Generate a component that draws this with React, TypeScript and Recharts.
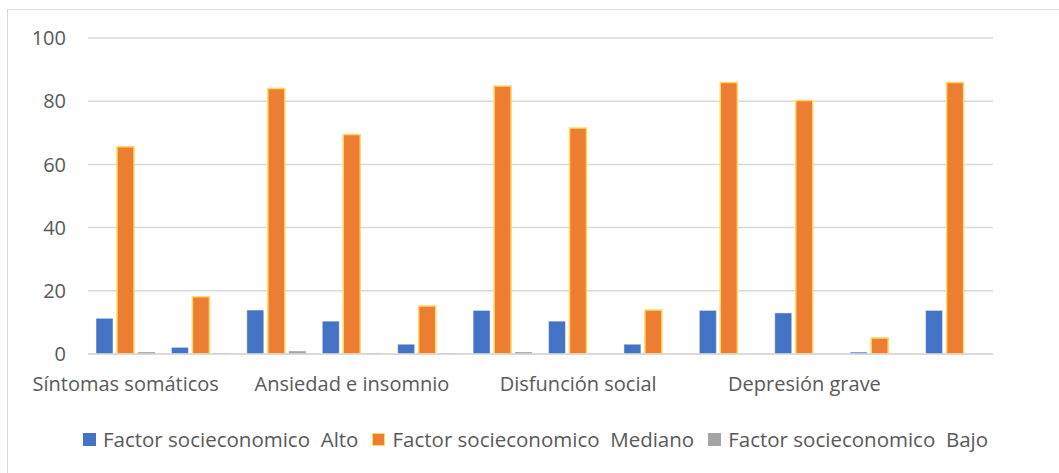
import React from 'react';
import { BarChart, Bar, XAxis, YAxis, CartesianGrid, Legend } from 'recharts';

const categories = [
  'Síntomas somáticos', '', '',
  'Ansiedad e insomnio', '', '',
  'Disfunción social', '', '',
  'Depresión grave', '', '',
];
const alto = [11.3, 2.1, 13.9, 10.4, 3.1, 13.8, 10.4, 3.1, 13.8, 13.0, 0.6, 13.8];
const mediano = [65.6, 18.1, 84.0, 69.5, 15.2, 84.8, 71.5, 13.9, 85.9, 80.2, 5.1, 85.9];
const bajo = [0.6, 0.2, 0.9, 0.2, 0.2, 0.6, 0, 0, 0, 0, 0, 0];
const yTicks = [0, 20, 40, 60, 80, 100];

const seriesNames = [
  'Factor socieconomico  Alto',
  'Factor socieconomico  Mediano',
  'Factor socieconomico  Bajo',
];

const data = categories.map((c, i) => ({
  name: c,
  alto: alto[i],
  mediano: mediano[i],
  bajo: bajo[i],
}));

const font = '"Open Sans", "Noto Sans", sans-serif';
const textColor = '#595959';

const legendItems = [
  { label: seriesNames[0], fill: '#4472C4', stroke: '#4472C4' },
  { label: seriesNames[1], fill: '#ED7D31', stroke: '#FFD966' },
  { label: seriesNames[2], fill: '#A5A5A5', stroke: '#A5A5A5' },
];

const renderLegend = () => (
  <div style={{ height: 69, display: 'flex', justifyContent: 'center', paddingTop: 41, paddingLeft: 12, boxSizing: 'border-box' }}>
    {legendItems.map((it) => (
      <div key={it.label} style={{ display: 'flex', alignItems: 'center', margin: '0 7px' }}>
        <span style={{ width: 11, height: 11, background: it.fill, border: `1.5px solid ${it.stroke}`, marginRight: 7, display: 'inline-block' }} />
        <span style={{ fontSize: 20.5, color: textColor, whiteSpace: 'pre', fontFamily: font }}>{it.label}</span>
      </div>
    ))}
  </div>
);

export default function App() {
  return (
    <div style={{ position: 'absolute', left: 0, top: 0, width: 1059, height: 473, overflow: 'hidden', background: '#fff' }}>
      <div style={{ position: 'absolute', left: 7, top: 9, width: 1070, height: 480, border: '1.5px solid #d9d9d9' }} />
      <div style={{ position: 'absolute', left: 0, top: 0 }}>
        <BarChart
          width={1059}
          height={473}
          data={data}
          margin={{ top: 38, right: 66, left: 8, bottom: 20 }}
          barCategoryGap={8}
          barGap={4}
          style={{ fontFamily: font }}
        >
          <CartesianGrid vertical={false} stroke="#d9d9d9" strokeWidth={1.5} />
          <XAxis
            dataKey="name"
            interval={0}
            tickLine={false}
            tickSize={0}
            tickMargin={23}
            height={30}
            axisLine={{ stroke: '#d9d9d9', strokeWidth: 1.5 }}
            tick={{ fill: textColor, fontSize: 20 }}
          />
          <YAxis
            domain={[0, 100]}
            ticks={yTicks}
            width={80}
            axisLine={false}
            tickLine={false}
            tickSize={0}
            tickMargin={22}
            tick={{ fill: textColor, fontSize: 20 }}
          />
          <Legend
            verticalAlign="bottom"
            height={69}
            content={renderLegend}
            wrapperStyle={{ left: 0, width: 1059 }}
          />
          <Bar dataKey="alto" name={seriesNames[0]} fill="#4472C4" stroke="#ffffff" strokeWidth={0.5} isAnimationActive={false} />
          <Bar dataKey="mediano" name={seriesNames[1]} fill="#ED7D31" stroke="#FFD966" strokeWidth={1.5} isAnimationActive={false} />
          <Bar dataKey="bajo" name={seriesNames[2]} fill="#A5A5A5" isAnimationActive={false} />
        </BarChart>
      </div>
    </div>
  );
}
